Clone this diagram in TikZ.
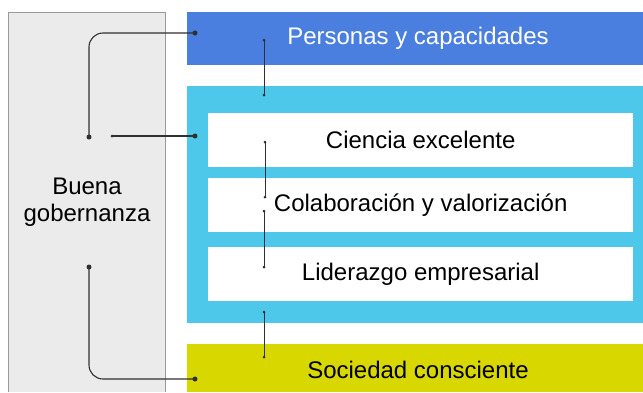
\documentclass[tikz,border=0pt]{standalone}
\usepackage{fontspec}
\setmainfont{Liberation Sans}
\usetikzlibrary{positioning}
\definecolor{topblue}{HTML}{4A7FE0}
\definecolor{skyblue}{HTML}{4EC8EA}
\definecolor{olive}{HTML}{D8D800}
\definecolor{panelgray}{HTML}{EBEBEB}
\definecolor{edgegray}{HTML}{9A9A9A}
\definecolor{wire}{HTML}{303030}
\tikzset{
  band/.style={anchor=north west, inner sep=0pt, minimum width=456pt},
  pillar/.style={anchor=north west, inner sep=0pt, minimum width=425pt, minimum height=54pt, fill=white, font=\fontsize{24}{27}\selectfont},
  wirepath/.style={draw=wire, line width=1.1pt},
  bigdot/.style={fill=wire, circle, inner sep=0pt, minimum size=5pt},
  smalldot/.style={fill=wire, circle, inner sep=0pt, minimum size=3pt}
}
\begin{document}
\begin{tikzpicture}[x=1pt,y=-1pt]
		\useasboundingbox (0,0) rectangle (643,392);
		% left panel
		\fill[panelgray] (8,12) rectangle (165,392);
		\draw[edgegray, line width=1pt] (8,392) -- (8,12) -- (165,12) -- (165,392);
		\node[align=center, font=\fontsize{24}{27}\selectfont] (gov) at (87,202) {Buena\\gobernanza};
		
		% bands
		\node[band, fill=topblue, minimum height=53pt] (people) at (187,12) {};
		\node[band, fill=skyblue, minimum height=237pt] (core) at (187,86) {};
		\node[band, fill=olive, minimum height=48pt] (society) at (187,344) {};
		\node[text=white, font=\fontsize{24}{27}\selectfont] (peoplelbl) at (418,38) {Personas y capacidades};
		\node[font=\fontsize{24}{27}\selectfont] (societylbl) at (418,370) {Sociedad consciente};
		
		% pillars
		\node[pillar] (science) at (208,113) {Ciencia excelente};
		\node[pillar] (collab) at (208,178) {Colaboración y valorización};
		\node[pillar] (lead) at (208,247) {Liderazgo empresarial};
		
		% connector ends
		\coordinate (gtop) at (89,137);
		\coordinate (gmid) at (112,136);
		\coordinate (gbot) at (89,267);
		\coordinate (pin) at (195,33);
		\coordinate (cin) at (195,136);
		\coordinate (sin) at (195,379);
		\coordinate (v1a) at (264,40);
		\coordinate (v1b) at (264,95);
		\coordinate (v2a) at (265,142);
		\coordinate (v2b) at (265,197);
		\coordinate (v3a) at (264,211);
		\coordinate (v3b) at (264,267);
		\coordinate (v4a) at (264,312);
		\coordinate (v4b) at (264,357);
		
		\draw[wirepath, rounded corners=14pt] (pin) -| (gtop);
		\draw[wirepath] (gmid) -- (cin);
		\draw[wirepath, rounded corners=14pt] (gbot) |- (sin);
		\draw[wirepath, line width=0.8pt] (v1a) -- (v1b);
		\draw[wirepath, line width=0.6pt] (v2a) -- (v2b);
		\draw[wirepath, line width=0.8pt] (v3a) -- (v3b);
		\draw[wirepath, line width=0.8pt] (v4a) -- (v4b);
		
		\foreach \p in {gtop,gbot,pin,cin,sin}
			\node[bigdot] at (\p) {};
		\foreach \p in {gmid,v1a,v1b,v2a,v2b,v3a,v3b,v4a,v4b}
			\node[smalldot] at (\p) {};
\end{tikzpicture}
\end{document}
